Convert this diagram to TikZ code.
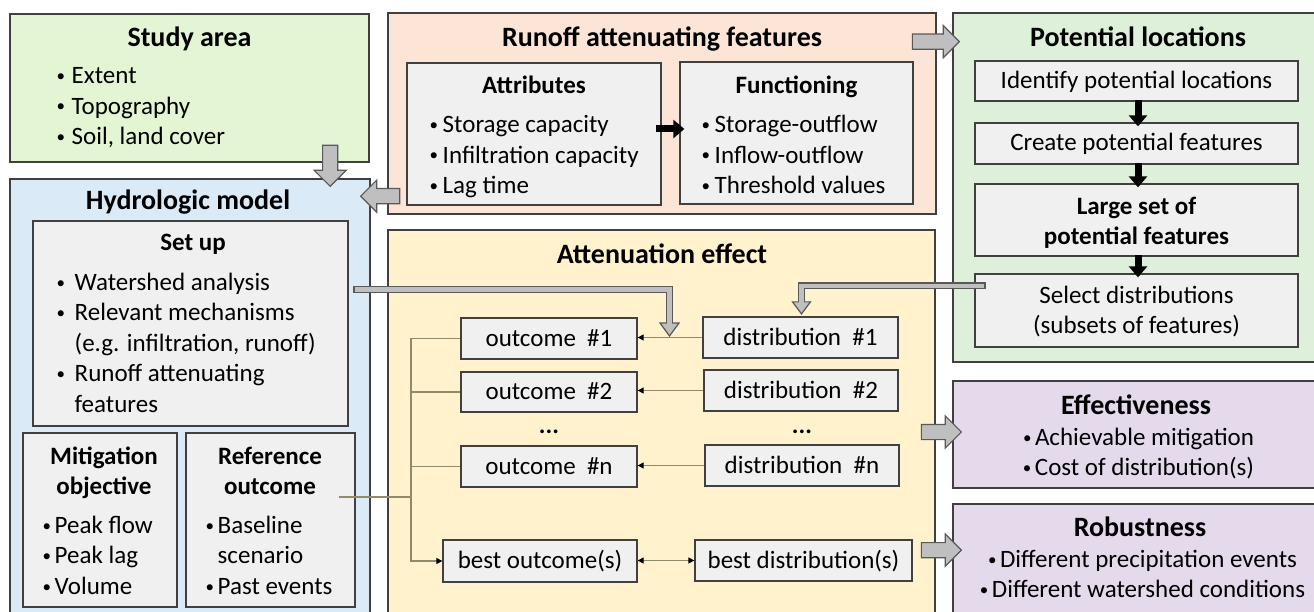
\documentclass[tikz,border=0pt]{standalone}
\usepackage{fontspec}
\setmainfont{Carlito}
\usetikzlibrary{arrows.meta,shapes.arrows,calc}
\definecolor{bordc}{HTML}{404040}
\definecolor{studyc}{HTML}{E3F5D3}
\definecolor{hydroc}{HTML}{DAEAF7}
\definecolor{runoffc}{HTML}{FCE4D6}
\definecolor{attenc}{HTML}{FFF2CC}
\definecolor{potc}{HTML}{DEEFDA}
\definecolor{effc}{HTML}{E4DAEC}
\definecolor{innerc}{HTML}{F0F0F0}
\definecolor{garrowc}{HTML}{BFBFBF}
\definecolor{garrowb}{HTML}{595959}
\definecolor{thinc}{HTML}{928B6B}
\newcommand\bodyfont{\fontsize{25}{30.5}\selectfont}
\newcommand\ttlfont{\fontsize{28}{34}\selectfont\bfseries}
\newcommand\subfont{\fontsize{25}{30.5}\selectfont\bfseries}
\newcommand\fs{\rule{0pt}{20pt}}
\newcommand\bl[1][16pt]{\makebox[#1][l]{\hspace*{1pt}\raisebox{2.2pt}{\fontsize{17}{17}\selectfont\textbullet}}}
\tikzset{
  outer/.style={draw=bordc, line width=1.6pt, inner sep=0pt},
  inner/.style={draw=bordc, line width=1.3pt, fill=innerc, inner sep=0pt,
    font=\bodyfont, text height=19pt, text depth=4pt},
  ttl/.style={anchor=base, inner sep=0pt, font=\ttlfont},
  sub/.style={anchor=base, inner sep=0pt, font=\subfont},
  lst/.style={anchor=north west, inner sep=0pt, align=left, font=\bodyfont},
  clst/.style={anchor=north, inner sep=0pt, align=center, font=\bodyfont},
  cbold/.style={anchor=north, inner sep=0pt, align=center, font=\subfont},
  thinl/.style={draw=thinc, line width=1.2pt},
  btip/.tip={Triangle[length=6pt,width=6pt,color=black]},
  blk/.style={line width=7pt, black, -{Triangle[length=11pt,width=18pt]}},
  barrow/.style={single arrow, draw=garrowb, fill=garrowc, line width=1.2pt,
    inner sep=7pt, minimum width=31pt,
    single arrow head extend=8.5pt, anchor=tip},
  gout/.style={line width=7pt, draw=garrowb},
  gin/.style={line width=4.2pt, draw=garrowc},
  ghead/.style={fill=garrowc, draw=garrowb, line width=1.2pt, line join=miter}
}
\begin{document}
\begin{tikzpicture}[x=1pt,y=-1pt]
\useasboundingbox (0,0) rectangle (1314,612);
\fill[white] (0,0) rectangle (1314,612);
\clip (0,0) rectangle (1314,612);

% ---------- outer boxes
\node[outer, fill=studyc, minimum width=359, minimum height=148] (study) at (189.5,88) {};
\node[outer, fill=hydroc, minimum width=360, minimum height=446] (hydro) at (190,402) {};
\node[outer, fill=runoffc, minimum width=548, minimum height=201] (runoff) at (662,113.5) {};
\node[outer, fill=attenc, minimum width=547, minimum height=400] (atten) at (661.5,430) {};
\node[outer, fill=potc, minimum width=377, minimum height=349] (pot) at (1141.5,187.5) {};
\node[outer, fill=effc, minimum width=377, minimum height=107] (eff) at (1141.5,434.5) {};
\node[outer, fill=effc, minimum width=377, minimum height=126] (rob) at (1141.5,567) {};

% ---------- study area
\node[ttl] (studyt) at (189.5,46.5) {Study area};
\node[lst] (studyl) at (55.5,63.5) {\fs\bl Extent\\ \bl Topography\\ \bl Soil, land cover};

% ---------- hydrologic model
\node[ttl] (hydrot) at (188,210) {Hydrologic model};
\node[inner, minimum width=315, minimum height=205] (setup) at (190.5,323.5) {};
\node[sub] (setupt) at (193,251) {Set up};
\node[lst] (setupl) at (55.5,270) {\fs\bl[19pt]Watershed analysis\\
  \bl[19pt]Relevant mechanisms\\ \hspace*{19pt}(e.g. infiltration, runoff)\\
  \bl[19pt]Runoff attenuating\\ \hspace*{19pt}features};
\node[inner, minimum width=154, minimum height=174] (mitig) at (100,520) {};
\node[cbold] (mitigt) at (104,444) {\fs Mitigation\\ objective};
\node[lst] (mitigl) at (41.5,513) {\fs\bl[13pt]Peak flow\\ \bl[13pt]Peak lag\\ \bl[13pt]Volume};
\node[inner, minimum width=169, minimum height=174] (refo) at (270.5,520) {};
\node[cbold] (refot) at (270,444) {\fs Reference\\ outcome};
\node[lst] (refol) at (204.5,513) {\fs\bl[13pt]Baseline\\ \hspace*{13pt}scenario\\ \bl[13pt]Past events};

% ---------- runoff attenuating features
\node[ttl] (runofft) at (662,47) {Runoff attenuating features};
\node[inner, minimum width=254, minimum height=142] (attr) at (534,134) {};
\node[sub] (attrt) at (534,94) {Attributes};
\node[lst] (attrl) at (428.5,112.5) {\fs\bl[14pt]Storage capacity\\ \bl[14pt]Infiltration capacity\\ \bl[14pt]Lag time};
\node[inner, minimum width=233, minimum height=142] (func) at (796.5,133) {};
\node[sub] (funct) at (796.5,94) {Functioning};
\node[lst] (funcl) at (700.5,112.5) {\fs\bl[14pt]Storage-outflow\\ \bl[14pt]Inflow-outflow\\ \bl[14pt]Threshold values};
\coordinate (ya) at (0,129);
\draw[blk] ($(attr.east |- ya)+(-6,0)$) -- ($(func.west |- ya)+(5,0)$);

% ---------- potential locations
\node[ttl] (pott) at (1138,47) {Potential locations};
\node[inner, minimum width=323, minimum height=40] (ident) at (1136.5,81) {Identify potential locations};
\node[inner, minimum width=323, minimum height=41] (create) at (1136.5,143.5) {Create potential features};
\node[inner, minimum width=323, minimum height=72] (large) at (1136.5,220) {};
\node[cbold] (larget) at (1136.5,194) {\fs Large set of\\ potential features};
\node[inner, minimum width=323, minimum height=73] (select) at (1136.5,310.5) {};
\node[clst] (selectt) at (1136.5,283) {\fs Select distributions\\ (subsets of features)};
\draw[blk] ($(ident.south)+(1.5,-2)$) -- ($(create.north)+(1.5,4)$);
\draw[blk] ($(create.south)+(1.5,-2)$) -- ($(large.north)+(1.5,4)$);
\draw[blk] ($(large.south)+(1.5,-2)$) -- ($(select.north)+(1.5,4)$);

% ---------- attenuation effect
\node[ttl] (attent) at (662,264) {Attenuation effect};
\node[inner, minimum width=176, minimum height=41] (o1) at (549,338.5) {outcome~ \#1};
\node[inner, minimum width=176, minimum height=40] (o2) at (549,392) {outcome~ \#2};
\node[font=\bodyfont\bfseries, inner sep=0pt] (dots1) at (549,432) {...};
\node[inner, minimum width=176, minimum height=41] (on) at (549,466.5) {outcome~ \#n};
\node[inner, minimum width=194, minimum height=42] (ob) at (540,561) {best outcome(s)};
\node[inner, minimum width=195, minimum height=41] (d1) at (800.5,337.5) {distribution~ \#1};
\node[inner, minimum width=194, minimum height=41] (d2) at (801,390.5) {distribution~ \#2};
\node[font=\bodyfont\bfseries, inner sep=0pt] (dots2) at (802,432) {...};
\node[inner, minimum width=194, minimum height=41] (dn) at (802,465.5) {distribution~ \#n};
\node[inner, minimum width=217, minimum height=41] (db) at (803.5,560.5) {best distribution(s)};

\draw[thinl, -{btip}] (d1.west) -- (d1.west -| o1.east);
\draw[thinl, -{btip}] (d2.west) -- (d2.west -| o2.east);
\draw[thinl, -{btip}] (dn.west) -- (dn.west -| on.east);
\draw[thinl, {btip}-{btip}] (db.west) -- (db.west -| ob.east);
\coordinate (brx) at (411,0);
\draw[thinl, -{btip}] (o1.west) -- (o1.west -| brx) |- (ob.west);
\draw[thinl] (o2.west) -- (o2.west -| brx);
\draw[thinl] (on.west) -- (on.west -| brx);
\coordinate (refl) at ($(refo.east)+(-17,-23)$);
\draw[thinl] (refl) -- (refl -| brx);

% ---------- effectiveness / robustness
\node[ttl] (efft) at (1136,414) {Effectiveness};
\node[clst] (effl) at (1138,425) {\fs\bl[13pt]Achievable mitigation\\ \bl[13pt]Cost of distribution(s)};
\node[ttl] (robt) at (1140,536) {Robustness};
\node[clst] (robl) at (1142,547) {\fs\bl[13pt]Different precipitation events\\ \bl[13pt]Different watershed conditions};

% ---------- grey connectors
\coordinate (g1s) at ($(setup.east)+(6,-34)$);
\coordinate (g1t) at ($(o1.east)!0.5!(d1.west)+(-0.5,-2)$);
\draw[gout] ($(g1s)+(-1.4,0)$) -| ($(g1t)+(0,-13)$);
\draw[gin] (g1s) -| ($(g1t)+(0,-13)$);
\draw[ghead] ($(g1t)+(-9.5,-13)$) -- ($(g1t)+(9.5,-13)$) -- (g1t) -- cycle;
\draw[gin] ($(g1t)+(0,-16)$) -- ($(g1t)+(0,-12)$);

\coordinate (g2s) at ($(select.north west)+(10,12.5)$);
\coordinate (g2t) at ($(d1.north)+(1,-2.5)$);
\draw[gout] ($(g2s)+(1.4,0)$) -| ($(g2t)+(0,-12)$);
\draw[gin] (g2s) -| ($(g2t)+(0,-12)$);
\draw[ghead] ($(g2t)+(-9,-12)$) -- ($(g2t)+(9,-12)$) -- (g2t) -- cycle;
\draw[gin] ($(g2t)+(0,-15)$) -- ($(g2t)+(0,-11)$);

% ---------- block arrows
\node[barrow, minimum height=41, shape border rotate=270] (ba1) at ($(hydro.north west)+(321,9)$) {};
\node[barrow, minimum height=39, shape border rotate=180] (ba2) at ($(hydro.north east)+(-11,18)$) {};
\node[barrow, minimum height=47] (ba3) at ($(pot.north west)+(8,29.5)$) {};
\node[barrow, minimum height=40] (ba4) at ($(eff.west)+(10,-2.5)$) {};
\node[barrow, minimum height=40] (ba5) at ($(rob.north west)+(10,47)$) {};
\end{tikzpicture}
\end{document}
